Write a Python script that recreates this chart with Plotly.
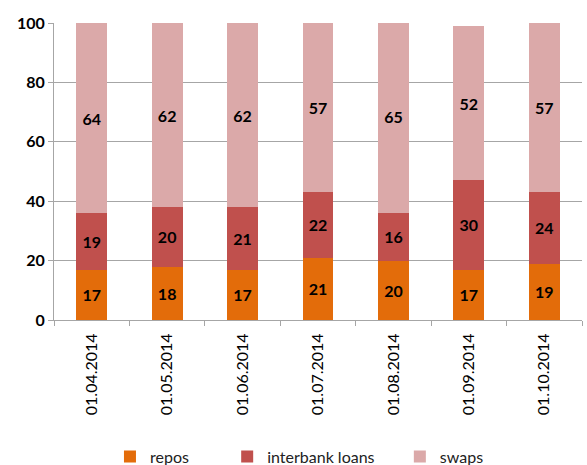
import plotly.graph_objects as go

dates = ["01.04.2014", "01.05.2014", "01.06.2014", "01.07.2014",
         "01.08.2014", "01.09.2014", "01.10.2014"]
repos = [17, 18, 17, 21, 20, 17, 19]
interbank_loans = [19, 20, 21, 22, 16, 30, 24]
swaps = [64, 62, 62, 57, 65, 52, 57]
y_ticks = [0, 20, 40, 60, 80, 100]

series = [
    ("repos", repos, "#E36C0A", "legend", 0.106),
    ("interbank loans", interbank_loans, "#C0504D", "legend2", 0.328),
    ("swaps", swaps, "#DBA9A9", "legend3", 0.655),
]

FONT = "Lato, Carlito, 'Open Sans', sans-serif"

fig = go.Figure()
legend_layouts = {}
for name, vals, color, leg, lx in series:
    fig.add_trace(go.Bar(
        x=dates, y=vals, name=name, legend=leg,
        marker=dict(color=color, line=dict(width=0)),
        width=0.41,
        text=[str(v) for v in vals],
        textposition="inside",
        insidetextanchor="middle",
        textangle=0,
        textfont=dict(family=FONT, size=16, color="black", weight="bold"),
        cliponaxis=True,
    ))
    # one small legend per series so the entries can be spaced freely
    legend_layouts[leg] = dict(
        orientation="h", x=lx, xanchor="left", y=-0.46, yanchor="middle",
        font=dict(family=FONT, size=16, color="#222"),
        itemwidth=30, bgcolor="rgba(0,0,0,0)",
    )

fig.update_layout(
    barmode="stack",
    width=587, height=465,
    margin=dict(l=54, r=5, t=23, b=145, autoexpand=False),
    paper_bgcolor="white", plot_bgcolor="white",
    font=dict(family=FONT, size=15, color="black"),
    showlegend=True,
    uniformtext=dict(minsize=10, mode="show"),
    **legend_layouts,
)

fig.update_xaxes(
    type="category", automargin=False,
    showline=True, linecolor="#A6A6A6", linewidth=1,
    ticks="outside", tickson="boundaries", ticklen=5, tickcolor="#A6A6A6",
    tickangle=-90, ticklabelstandoff=6,
    tickfont=dict(family=FONT, size=16, color="black"),
    showgrid=False,
)

fig.update_yaxes(
    range=[0, 100], tickvals=y_ticks, automargin=False,
    showline=True, linecolor="#A6A6A6", linewidth=1,
    ticks="outside", ticklen=5, tickcolor="#A6A6A6",
    showgrid=True, gridcolor="#A6A6A6", gridwidth=1,
    tickfont=dict(family=FONT, size=16, color="black", weight="bold"),
    zeroline=False,
)

fig.write_html("out.html")
